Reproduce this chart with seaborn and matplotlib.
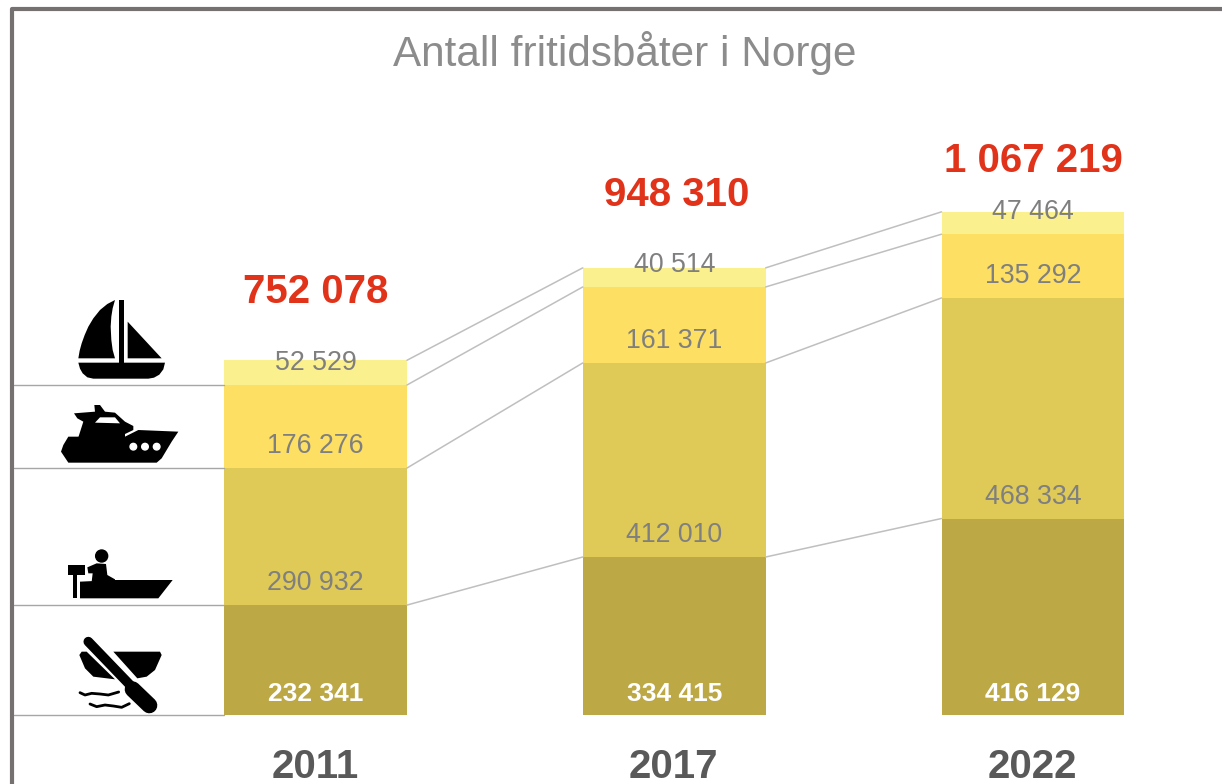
#!/usr/bin/env python3
"""Antall fritidsbåter i Norge - stacked bars with connector lines and boat icons."""

import numpy as np
import pandas as pd
import matplotlib
matplotlib.use("Agg")
import matplotlib.pyplot as plt
from matplotlib.patches import Polygon, Circle
import seaborn as sns

years = ["2011", "2017", "2022"]
robaat = [232341, 334415, 416129]
motorbaat = [290932, 412010, 468334]
kabinbaat = [176276, 161371, 135292]
seilbaat = [52529, 40514, 47464]
totals = [752078, 948310, 1067219]

COLORS = ["#BDA846", "#DFC957", "#FDDF63", "#FBF08E"]
GREY_TXT = "#7F7F7F"
LINE = "#BFBFBF"
W, H = 1222, 784

sns.set_theme(style="white")
plt.rcParams["font.family"] = ["Liberation Sans", "DejaVu Sans"]


def fmt(v):
    return f"{v:,}".replace(",", " ")


def zoomed(ax, origin, pts, color="black"):
    xy = [(origin[0] + x / 3, origin[1] + y / 3) for x, y in pts]
    ax.add_patch(Polygon(xy, closed=True, facecolor=color, edgecolor="none"))


def zoomed_line(ax, origin, pts, lw, cap="round"):
    arr = np.array(pts, dtype=float)
    ax.plot(origin[0] + arr[:, 0] / 3, origin[1] + arr[:, 1] / 3,
            color="black", lw=lw, solid_capstyle=cap, solid_joinstyle="round")


def draw_icons(ax):
    o = (50, 290)
    zoomed(ax, o, [(195, 30), (172, 42), (150, 60), (130, 85), (115, 110), (104, 135), (95, 160),
                   (89, 182), (85, 205), (195, 205), (188, 180), (184, 150), (182, 110),
                   (184, 80), (188, 55)])
    zoomed(ax, o, [(208, 30), (221, 30), (221, 218), (208, 218)])
    zoomed(ax, o, [(233, 95), (335, 205), (233, 205)])
    zoomed(ax, o, [(85, 218), (345, 218), (340, 238), (328, 254), (312, 263), (295, 266),
                   (130, 266), (112, 262), (98, 250), (90, 236)])
    # yacht
    zoomed(ax, o, [(55, 440), (225, 440), (265, 420), (385, 425), (365, 455), (335, 505),
                   (320, 518), (55, 518), (33, 485), (40, 465)])
    zoomed(ax, o, [(72, 370), (135, 365), (133, 345), (150, 345), (165, 365), (195, 368),
                   (225, 395), (250, 408), (250, 420), (225, 432), (225, 442), (85, 442),
                   (100, 395), (82, 385)])
    zoomed(ax, o, [(135, 398), (150, 382), (195, 382), (210, 400)], color="white")
    for zx in (250, 285, 320):
        ax.add_patch(Circle((o[0] + zx / 3, o[1] + 470 / 3), 3.3, color="white"))

    o = (50, 540)
    # open motor boat with driver
    ax.add_patch(Circle((o[0] + 155 / 3, o[1] + 48 / 3), 6, color="black"))
    zoomed(ax, o, [(90, 125), (195, 120), (368, 120), (325, 175), (90, 175)])
    zoomed(ax, o, [(112, 82), (140, 70), (168, 72), (172, 105), (195, 118), (195, 125),
                   (125, 125), (128, 100), (115, 100)])
    zoomed(ax, o, [(55, 75), (105, 75), (105, 105), (55, 105)])
    zoomed(ax, o, [(68, 105), (82, 105), (82, 175), (68, 175)])
    # rowing boat, oar and waves
    zoomed(ax, o, [(190, 335), (330, 335), (335, 345), (315, 390), (290, 410), (262, 415)])
    zoomed(ax, o, [(88, 345), (95, 335), (110, 335), (195, 418), (130, 410), (105, 385)])
    zoomed_line(ax, o, [(115, 305), (245, 440)], 7)
    zoomed_line(ax, o, [(248, 448), (298, 496)], 11.5)
    zoomed_line(ax, o, [(90, 458), (105, 465), (125, 460), (150, 462), (175, 465), (206, 456)], 2)
    zoomed_line(ax, o, [(120, 492), (140, 500), (165, 495), (190, 498), (215, 502), (238, 491)], 2)


def main():
    fig = plt.figure(figsize=(W / 100, H / 100), dpi=100)
    ax = fig.add_axes([0, 0, 1, 1])

    layers = [robaat, motorbaat, kabinbaat, seilbaat]
    cum = np.cumsum(np.array(layers), axis=0)
    bar_w = 0.51

    # stacking by overpainting: tallest cumulative first
    for level, color in zip(range(3, -1, -1), COLORS[::-1]):
        df = pd.DataFrame({"year": years, "value": cum[level]})
        sns.barplot(data=df, x="year", y="value", color=color, saturation=1,
                    width=bar_w, ax=ax, linewidth=0)

    # 358.75 px between bars, 0.000471 px per boat, baseline at y=714
    px_x, px_y = 358.75, 0.000471
    x_left = -315.5 / px_x
    ax.set_xlim(x_left, (W - 315.5) / px_x)
    ax.set_ylim(-(H - 714.5) / px_y, 714.5 / px_y)
    ax.axis("off")

    # connectors between bars and leader lines towards the icons
    for level in range(4):
        for i in range(2):
            ax.plot([i + bar_w / 2, i + 1 - bar_w / 2], [cum[level][i], cum[level][i + 1]],
                    color=LINE, lw=1.1, zorder=1)
    for y in [0, cum[0][0], cum[1][0], cum[2][0]]:
        ax.plot([x_left + 14 / px_x, -bar_w / 2], [y, y], color="#A6A6A6", lw=1.0, zorder=1)

    # segment labels sit about 23 px above each segment's bottom
    for level, values in enumerate(layers):
        base = cum[level - 1] if level else np.zeros(3)
        for i, v in enumerate(values):
            ax.annotate(fmt(v), (i, base[i]), xytext=(0, 14.5 if level == 0 else 15.7),
                        textcoords="offset points",
                        ha="center", va="center", fontsize=19 if level == 0 else 19.3,
                        fontweight="bold" if level == 0 else "normal",
                        color="white" if level == 0 else GREY_TXT)

    total_offsets = [68, 73, 51]
    total_shift = [0, 2, 0]
    for i, v in enumerate(totals):
        ax.annotate(fmt(v), (i, v), xytext=(total_shift[i] * 0.72, total_offsets[i] * 0.72),
                    textcoords="offset points", ha="center", va="center",
                    fontsize=29, fontweight="bold", color="#E0331A")
    for i, year in enumerate(years):
        ax.annotate(year, (i, 0), xytext=(-0.5, -38), textcoords="offset points",
                    ha="center", va="center", fontsize=29, fontweight="bold", color="#595959")

    # pixel overlay for the frame and the icons
    over = fig.add_axes([0, 0, 1, 1], facecolor="none")
    over.set_xlim(0, W)
    over.set_ylim(H, 0)
    over.axis("off")
    over.plot([12, 12, W], [H, 9, 9], color="#767171", lw=3, solid_joinstyle="round")
    draw_icons(over)
    over.text(624.5, 53, "Antall fritidsbåter i Norge", ha="center", va="center",
              fontsize=30.4, color="#8C8C8C")

    fig.savefig("out.png", dpi=100)
    plt.close(fig)


if __name__ == "__main__":
    main()
